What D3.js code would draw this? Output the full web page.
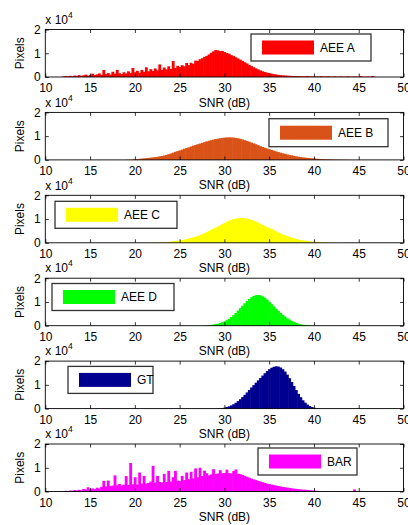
<!DOCTYPE html>
<html>
<head>
<meta charset="utf-8">
<script src="https://cdn.jsdelivr.net/npm/d3@7"></script>
<style>
  html, body { margin: 0; padding: 0; background: #fff; }
  svg { display: block; }
  text { font-family: "Liberation Sans", Arial, sans-serif; font-size: 12px; fill: #000; }
</style>
</head>
<body>
<script>
// SNR histograms, one panel per method (bins of 0.25 dB, counts in pixels)
const seriesNames = ["AEE A", "AEE B", "AEE C", "AEE D", "GT", "BAR"];
const snrTicks = [10, 15, 20, 25, 30, 35, 40, 45, 50];
const pixelTicks = [0, 10000, 20000];
const binStep = 0.25;

const aeeAStart = 12;
const aeeA = [
  200, 400, 250, 500, 350, 600, 450, 800, 500, 700,
  1000, 600, 900, 1400, 800, 1100, 1500, 900, 3000, 1200,
  1700, 1000, 2200, 1400, 3000, 1600, 1200, 2000, 1500, 2400,
  1700, 3800, 2000, 2600, 1800, 3000, 2200, 4100, 2400, 3300,
  2600, 3600, 2800, 5300, 3000, 4000, 3200, 4500, 3400, 6700,
  3800, 4700, 4200, 5000, 4500, 5900, 5000, 6000, 5500, 6900,
  6800, 7500, 7900, 8500, 8900, 9500, 10200, 10800, 11400, 11200,
  10900, 11000, 10500, 10100, 9800, 9200, 8800, 8300, 7800, 7300,
  6800, 6200, 5700, 5100, 4600, 4100, 3600, 3200, 2800, 2400,
  2100, 1800, 1600, 1400, 1200, 1050, 900, 800, 700, 620,
  550, 500, 450, 400, 380, 350, 330, 300, 280, 400,
  260, 250, 240, 230, 220, 350, 210, 200, 300, 190,
  180, 280, 170, 170, 250, 160, 160, 300, 150, 150,
  250, 140, 140, 350, 130, 130, 200, 120, 400, 150
];

const aeeBStart = 19;
const aeeB = [
  50, 80, 100, 170, 250, 350, 450, 550, 650, 750,
  850, 950, 1050, 1170, 1300, 1470, 1650, 1870, 2100, 2400,
  2700, 3050, 3400, 3700, 4000, 4350, 4700, 5000, 5300, 5650,
  6000, 6300, 6600, 6900, 7200, 7500, 7800, 8050, 8300, 8550,
  8800, 8950, 9100, 9250, 9400, 9450, 9500, 9450, 9400, 9250,
  9100, 8850, 8600, 8300, 8000, 7650, 7300, 6950, 6600, 6200,
  5800, 5450, 5100, 4800, 4500, 4200, 3900, 3600, 3300, 3050,
  2800, 2550, 2300, 2100, 1900, 1700, 1500, 1350, 1200, 1070,
  950, 850, 750, 660, 580, 510, 440, 380, 330, 290,
  250, 210, 180, 150, 130, 110, 90, 75, 60, 50, 40
];

const aeeCStart = 22;
const aeeC = [
  50, 80, 110, 150, 200, 260, 330, 410, 500, 600,
  720, 850, 1000, 1170, 1350, 1550, 1780, 2030, 2300, 2600,
  2920, 3270, 3650, 4050, 4480, 4930, 5400, 5900, 6400, 6900,
  7400, 7900, 8400, 8850, 9250, 9650, 9950, 10200, 10400, 10500,
  10450, 10350, 10150, 9900, 9600, 9250, 8850, 8450, 8000, 7550,
  7100, 6600, 6150, 5700, 5250, 4800, 4350, 3950, 3550, 3150,
  2800, 2450, 2150, 1870, 1600, 1380, 1180, 1000, 850, 720,
  600, 500, 410, 340, 280, 230, 180, 140, 110, 85,
  65, 50, 35, 25
];

const aeeDStart = 27;
const aeeD = [
  20, 40, 70, 110, 170, 250, 350, 480, 650, 870,
  1130, 1450, 1850, 2350, 2950, 3650, 4450, 5350, 6350, 7400,
  8450, 9450, 10400, 11250, 11950, 12500, 12850, 12950, 12800, 12400,
  11800, 11000, 10050, 9100, 8100, 7150, 6250, 5400, 4600, 3850,
  3150, 2550, 2000, 1550, 1150, 850, 600, 420, 280, 180,
  110, 60, 30
];

const gtStart = 29;
const gt = [
  50, 80, 150, 250, 400, 650, 950, 1350, 1850, 2450,
  3150, 3950, 4850, 5800, 6800, 7850, 8900, 9900, 10900, 11900,
  12900, 13900, 14900, 15800, 16600, 17200, 17600, 17800, 17700, 17300,
  16600, 15600, 14300, 12800, 11200, 9500, 7800, 6200, 4800, 3500,
  2500, 1700, 1100, 650, 350, 180, 80, 30
];

const barStart = 12;
const bar = [
  150, 300, 200, 400, 300, 600, 400, 700, 500, 1100,
  800, 1800, 900, 1300, 1000, 1600, 1200, 2000, 4500, 2200,
  4600, 2300, 2500, 6800, 2600, 3200, 2500, 2900, 6500, 2800,
  12000, 3000, 6000, 2900, 8000, 3300, 6600, 3400, 3600, 4200,
  10800, 3800, 6600, 4000, 3800, 7400, 4000, 8700, 4200, 6000,
  8700, 4600, 4400, 6600, 4800, 8000, 5200, 8300, 5500, 9700,
  6000, 10000, 6500, 8800, 7700, 6800, 7200, 9400, 7400, 7600,
  9000, 7700, 7800, 9200, 7700, 7600, 8600, 9300, 7500, 7300,
  7000, 6600, 6200, 5800, 5400, 5100, 4800, 4500, 4200, 3900,
  3600, 3300, 3100, 2900, 2700, 2500, 2300, 2100, 1900, 1800,
  1650, 1500, 1350, 1200, 1100, 1000, 900, 800, 750, 650,
  550, 450, 380, 300, 250, 150, 100, 80, 60, 50,
  40, 30, 30, 20, 20, 20, 20, 20, 20, 20,
  900, 20
];

const seriesStarts = [aeeAStart, aeeBStart, aeeCStart, aeeDStart, gtStart, barStart];
const seriesValues = [aeeA, aeeB, aeeC, aeeD, gt, bar];
const seriesColors = ["#ff0000", "#d95319", "#ffff00", "#00ff00", "#000090", "#ff00ff"];

const WIDTH = 408;
const HEIGHT = 525;
const PLOT = { left: 45.3, right: 403.5, top: 29.5, height: 47.5, gap: 82.9 };
// legend box per panel: [x, offset from panel top, width, height]
const LEGENDS = [
  [251, 4.5, 120, 27],
  [269, 6.3, 119, 28],
  [55, 6, 122, 27],
  [52, 5.3, 122, 27],
  [68, 5.3, 85, 27],
  [258, 4, 99, 27]
];
const TICK = 3.5;

const svg = d3.select("body").append("svg")
  .attr("width", WIDTH)
  .attr("height", HEIGHT);

const xScale = d3.scaleLinear()
  .domain([snrTicks[0], snrTicks[snrTicks.length - 1]])
  .range([PLOT.left, PLOT.right]);

seriesNames.forEach((name, i) => {
  const top = PLOT.top + i * PLOT.gap;
  const bottom = top + PLOT.height;
  const yScale = d3.scaleLinear().domain([0, 20000]).range([bottom, top]);
  const g = svg.append("g").attr("class", "panel");

  const bins = seriesValues[i].map((v, k) => ({ snr: seriesStarts[i] + k * binStep, count: v }));
  const barW = xScale(binStep) - xScale(0);

  g.append("g")
    .selectAll("rect")
    .data(bins)
    .join("rect")
    .attr("x", d => xScale(d.snr - binStep / 2))
    .attr("y", d => yScale(d.count))
    .attr("width", barW + 0.6)
    .attr("height", d => bottom - yScale(d.count))
    .attr("fill", seriesColors[i]);

  // box with inward ticks on all four sides
  const xAxisB = d3.axisBottom(xScale).tickValues(snrTicks).tickSize(-TICK).tickPadding(6.7).tickFormat(d3.format("d"));
  const xAxisT = d3.axisTop(xScale).tickValues(snrTicks).tickSize(-TICK).tickFormat("");
  const yAxisL = d3.axisLeft(yScale).tickValues(pixelTicks).tickSize(-TICK).tickPadding(4.5).tickFormat(d => d / 10000);
  const yAxisR = d3.axisRight(yScale).tickValues(pixelTicks).tickSize(-TICK).tickFormat("");

  [
    [xAxisB, `translate(0,${bottom})`],
    [xAxisT, `translate(0,${top})`],
    [yAxisL, `translate(${PLOT.left},0)`],
    [yAxisR, `translate(${PLOT.right},0)`]
  ].forEach(([axis, tr]) => {
    const a = g.append("g").attr("transform", tr).call(axis);
    a.select(".domain").remove();
    a.selectAll("line").attr("stroke", "#000").attr("stroke-width", 0.8);
    a.selectAll("text").attr("font-size", 12).attr("font-family", null);
  });

  g.append("rect")
    .attr("x", PLOT.left)
    .attr("y", top)
    .attr("width", PLOT.right - PLOT.left)
    .attr("height", PLOT.height)
    .attr("fill", "none")
    .attr("stroke", "#000")
    .attr("stroke-width", 0.9);

  // exponent label
  const ex = g.append("text").attr("x", PLOT.left).attr("y", top - 5.8);
  ex.append("tspan").text("x 10");
  ex.append("tspan").attr("dy", -6).attr("font-size", 8.5).text("4");

  g.append("text")
    .attr("transform", `translate(24,${(top + bottom) / 2}) rotate(-90)`)
    .attr("text-anchor", "middle")
    .text("Pixels");

  g.append("text")
    .attr("x", (PLOT.left + PLOT.right) / 2)
    .attr("y", bottom + 29.5)
    .attr("text-anchor", "middle")
    .text("SNR (dB)");

  // legend
  const [lx, ldy, lw, lh] = LEGENDS[i];
  const ly = top + ldy;
  const leg = g.append("g").attr("class", "legend");
  leg.append("rect")
    .attr("x", lx).attr("y", ly).attr("width", lw).attr("height", lh)
    .attr("fill", "#fff").attr("stroke", "#333").attr("stroke-width", 1.3);
  leg.append("rect")
    .attr("x", lx + 11).attr("y", ly + lh / 2 - 7).attr("width", 52).attr("height", 14)
    .attr("fill", seriesColors[i]);
  leg.append("text")
    .attr("x", lx + 69).attr("y", ly + lh / 2 + 4.3)
    .text(name);
});
</script>
</body>
</html>
